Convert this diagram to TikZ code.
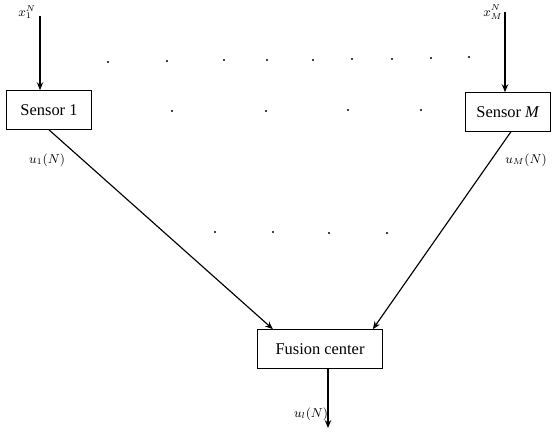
\documentclass[tikz,border=0pt]{standalone}
\usepackage{fontspec}
\setmainfont{Liberation Serif}
\usetikzlibrary{arrows.meta}
\begin{document}
\begin{tikzpicture}[x=0.7pt,y=-0.7pt,>={Stealth[length=5.5pt,width=4.5pt]},
    sensorbox/.style={draw,thick,minimum height=27pt,inner sep=2pt,font=\fontsize{11.5}{13}\selectfont},
    lbl/.style={font=\small}]
                \useasboundingbox (0,0) rectangle (553,440);
                % boxes
                \node[sensorbox,minimum width=59pt] (s1) at (49,110) {Sensor 1};
                \node[sensorbox,minimum width=59pt] (sM) at (508,112) {Sensor \textit{M}};
                \node[sensorbox,minimum width=88pt] (fc) at (320,349) {Fusion center};
                % inputs and output
                \coordinate (in1) at (40,16);
                \coordinate (inM) at (505,12);
                \coordinate (out) at (328,428);
                \draw[thick,->] (in1) -- (in1 |- s1.north);
                \draw[thick,->] (inM) -- (inM |- sM.north);
                \draw[thick,->] (fc.south -| out) -- (out);
                \draw[thick,->] (s1.south) -- ([xshift=-33pt]fc.north);
                \draw[thick,->] ([xshift=2pt]sM.south) -- ([xshift=37pt]fc.north);
                % labels
                \node[lbl] (lx1) at (27,12) {$x_1^N$};
                \node[lbl] (lxM) at (493,12) {$x_M^N$};
                \node[lbl] (lu1) at (47,160) {$u_1(N)$};
                \node[lbl] (luM) at (526,160) {$u_M(N)$};
                \node[lbl] (lul) at (311,414) {$u_l(N)$};
                % dots between the sensors
                \foreach \x/\y in {108/62, 167/61, 224/60, 267/60, 313/60, 352/59, 392/59, 431/58, 469/57,
                                   172/111, 266/111, 348/110, 421/110,
                                   215/232, 273/232, 329/233, 387/233}
                \fill (\x,\y) circle (0.8pt);
            \end{tikzpicture}
\end{document}
